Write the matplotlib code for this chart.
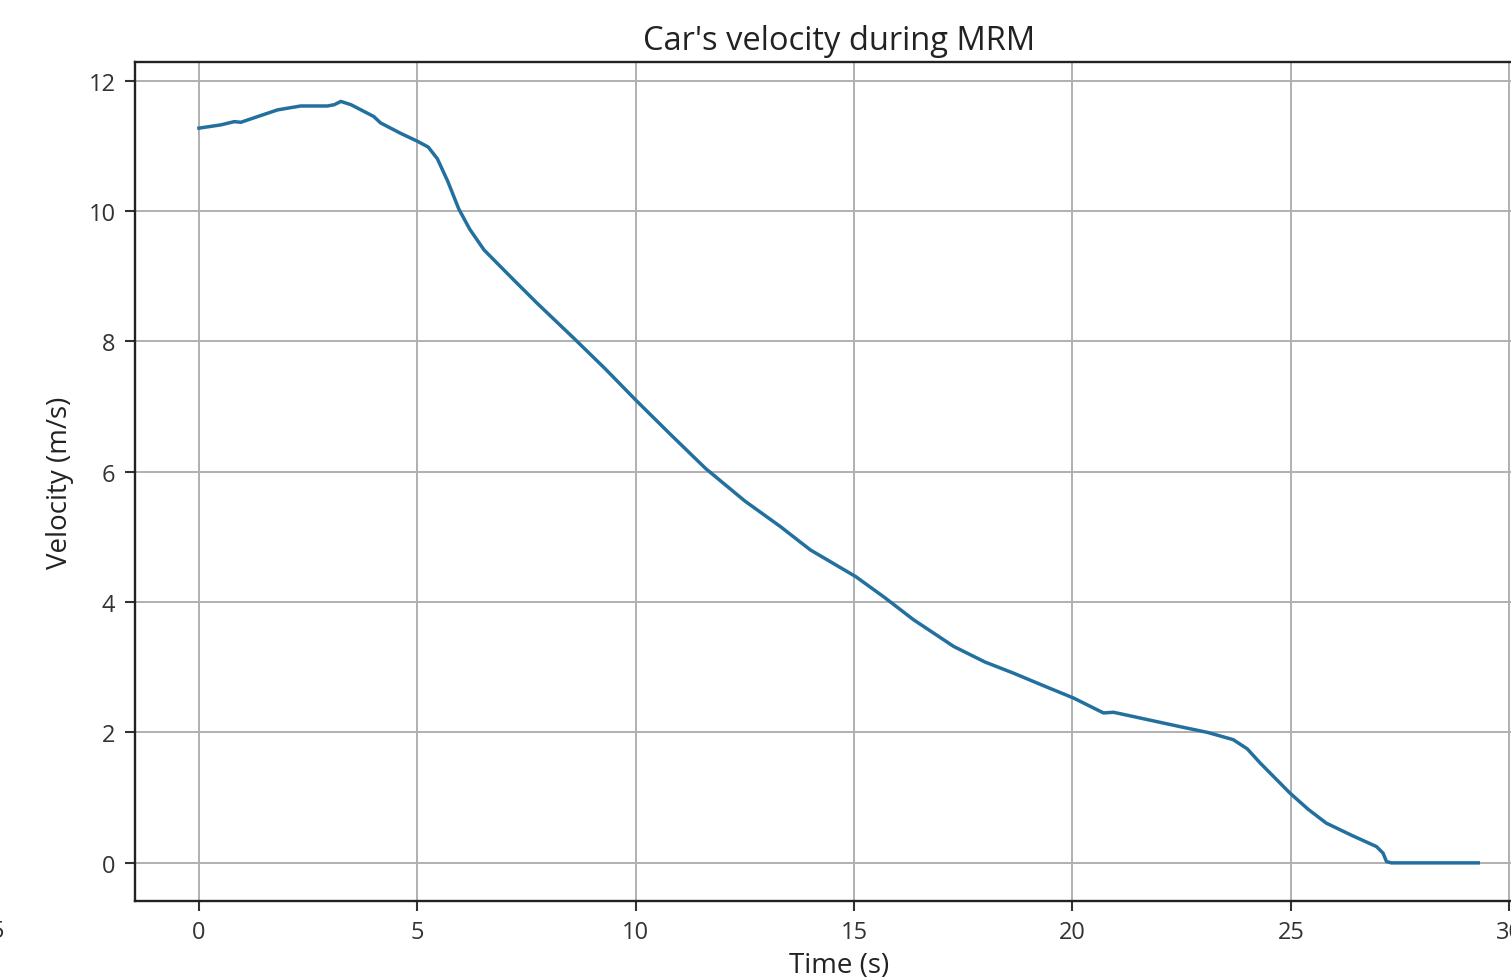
import matplotlib
matplotlib.use("Agg")
import matplotlib.pyplot as plt

plt.rcParams['font.family'] = ['Open Sans', 'DejaVu Sans']

time_s = [0.0, 0.5, 0.81, 0.96, 1.4, 1.8, 2.33, 2.94, 3.1, 3.25, 3.48, 4.0, 4.16, 4.62,
          5.0, 5.25, 5.46, 5.7, 5.95, 6.2, 6.53, 7.21, 7.75, 8.58, 9.3, 10.0, 10.8,
          11.6, 12.5, 13.31, 14.0, 15.04, 15.7, 16.36, 17.28, 18.0, 18.65, 19.4,
          20.02, 20.71, 20.94, 21.7, 22.46, 23.1, 23.68, 24.0, 24.3, 24.98, 25.4,
          25.81, 26.4, 26.96, 27.11, 27.19, 27.3, 28.3, 29.29]
velocity = [11.27, 11.32, 11.37, 11.36, 11.46, 11.55, 11.61, 11.61, 11.63, 11.68, 11.63,
            11.45, 11.35, 11.19, 11.07, 10.98, 10.8, 10.45, 10.03, 9.72, 9.40, 8.94,
            8.58, 8.05, 7.58, 7.10, 6.57, 6.05, 5.55, 5.16, 4.80, 4.39, 4.07, 3.73,
            3.32, 3.08, 2.91, 2.70, 2.53, 2.30, 2.31, 2.20, 2.09, 2.00, 1.89, 1.75,
            1.53, 1.07, 0.82, 0.61, 0.42, 0.25, 0.15, 0.02, 0.0, 0.0, 0.0]

xticks = [0, 5, 10, 15, 20, 25, 30]
yticks = [0, 2, 4, 6, 8, 10, 12]

fig = plt.figure(figsize=(15.11, 9.78), dpi=100)
ax = fig.add_axes([0.0893, 0.0777, 0.9318, 0.8579])

ax.plot(time_s, velocity, color='#23709f', linewidth=2.5)

ax.set_xticks(xticks)
ax.set_yticks(yticks)
ax.set_xlim(-1.465, 30.77)
ax.set_ylim(-0.585, 12.285)

ax.grid(True, color='#b0b0b0', linewidth=1.4)
ax.set_axisbelow(True)
for s in ax.spines.values():
    s.set_linewidth(1.7)
    s.set_color('#222222')
ax.tick_params(labelsize=17, length=7, width=1.5, pad=7, colors='#333333')

ax.set_title("Car's velocity during MRM", fontsize=23.5, pad=9, color='#222222')
ax.set_xlabel("Time (s)", fontsize=20, labelpad=5, color='#222222')
ax.set_ylabel("Velocity (m/s)", fontsize=20, labelpad=10, color='#222222')

fig.text(4 / 1511, 1 - 932 / 978, "5", ha='right', va='center', fontsize=17, color='#333333')

fig.savefig("out.png", dpi=100)
